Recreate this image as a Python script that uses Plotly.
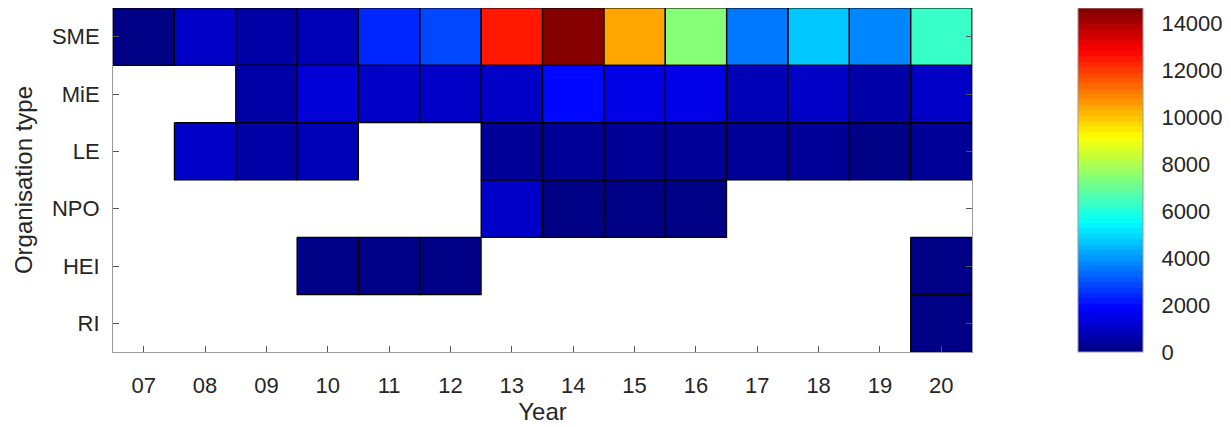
import plotly.graph_objects as go
import numpy as np

years = ["07", "08", "09", "10", "11", "12", "13", "14", "15", "16", "17", "18", "19", "20"]
org_types = ["SME", "MiE", "LE", "NPO", "HEI", "RI"]
N = None
sme = [60, 950, 620, 820, 2290, 2970, 12370, 14650, 10510, 7330, 3660, 4580, 3880, 6190]
mie = [N, N, 620, 1280, 1030, 950, 1050, 2060, 1390, 1400, 820, 1030, 620, 1030]
le = [N, 1000, 520, 720, N, N, 230, 380, 340, 400, 340, 260, 150, 250]
npo = [N, N, N, N, N, N, 930, 160, 200, 200, N, N, N, N]
hei = [N, N, N, 200, 200, 200, N, N, N, N, N, N, N, 220]
ri = [N, N, N, N, N, N, N, N, N, N, N, N, N, 200]

rows = [sme, mie, le, npo, hei, ri]
z = [[np.nan if v is None else v for v in r] for r in rows]
xi = list(range(len(years)))
yi = list(range(len(org_types)))

# MATLAB-style jet (64 steps)
def jet(n=64):
    cols = []
    for i in range(n):
        t = (i + 0.5) / n
        r = np.clip(1.5 - abs(4 * t - 3), 0, 1)
        g = np.clip(1.5 - abs(4 * t - 2), 0, 1)
        b = np.clip(1.5 - abs(4 * t - 1), 0, 1)
        cols.append(f"rgb({int(r*255)},{int(g*255)},{int(b*255)})")
    scale = []
    for i, c in enumerate(cols):
        scale.append([i / n, c])
        scale.append([(i + 1) / n, c])
    return scale

zmax = max(v for r in rows for v in r if v is not None)
FONT = "Liberation Sans"
TXT = "#262626"

fig = go.Figure()
fig.add_trace(go.Heatmap(
    x=xi, y=yi, z=z, colorscale=jet(), zmin=0, zmax=zmax,
    hoverongaps=False,
    colorbar=dict(
        xref="container", x=(1078 - 8) / 1231, xanchor="left", xpad=0, ypad=0,
        thickness=65, thicknessmode="pixels", len=1, y=0.5, yanchor="middle",
        outlinecolor="#9a9a9a", outlinewidth=1,
        tickvals=list(range(0, 14001, 2000)), tickformat="d",
        ticks="outside", ticklen=14, tickcolor="rgba(0,0,0,0)",
        tickfont=dict(size=22, color=TXT, family=FONT),
    ),
))

# cell outlines derived from data indices
bx, by = [], []
for j, r in enumerate(rows):
    for i, v in enumerate(r):
        if v is not None:
            bx += [i - 0.5, i + 0.5, i + 0.5, i - 0.5, i - 0.5, None]
            by += [j - 0.5, j - 0.5, j + 0.5, j + 0.5, j - 0.5, None]
fig.add_trace(go.Scatter(x=bx, y=by, mode="lines", line=dict(color="black", width=1.2),
                         hoverinfo="skip", showlegend=False))

axis_font = dict(size=22, color=TXT, family=FONT)
fig.update_xaxes(
    range=[-0.5, len(years) - 0.5], tickvals=xi, ticktext=years,
    ticks="inside", ticklen=6, tickcolor="#555", showline=True, linecolor="#9a9a9a",
    mirror=True, showgrid=False, zeroline=False, tickfont=axis_font, ticklabelstandoff=14,
    title=dict(text="Year", font=dict(size=24, color=TXT, family=FONT), standoff=2),
)
fig.update_yaxes(
    range=[len(org_types) - 0.5, -0.5], tickvals=yi, ticktext=org_types,
    ticks="inside", ticklen=6, tickcolor="#555", showline=True, linecolor="#9a9a9a",
    mirror="ticks", showgrid=False, zeroline=False, tickfont=axis_font, ticklabelstandoff=8,
    title=dict(text="Organisation type", font=dict(size=24, color=TXT, family=FONT), standoff=12),
)
fig.update_layout(
    width=1231, height=427,
    margin=dict(l=105, r=267, t=0, b=83),
    plot_bgcolor="white", paper_bgcolor="white",
    showlegend=False,
)
fig.write_html("out.html")
